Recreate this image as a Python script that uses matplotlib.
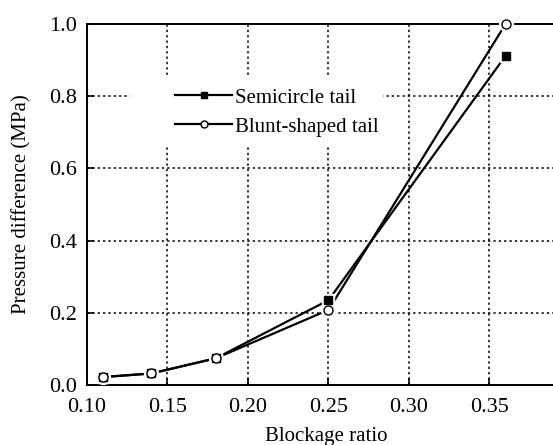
import numpy as np
from matplotlib import pyplot as plt
from matplotlib.patches import Rectangle

# Data
BLOCKAGE = [0.11, 0.14, 0.18, 0.25, 0.36]
SEMICIRCLE = [0.022, 0.032, 0.074, 0.235, 0.912]
BLUNT = [0.022, 0.032, 0.074, 0.208, 1.0]
LABELS = ['Semicircle tail', 'Blunt-shaped tail']

plt.rcParams['font.family'] = ['Liberation Serif', 'DejaVu Serif']


def main():
    fig = plt.figure(figsize=(5.53, 4.45), dpi=100)
    ax = fig.add_axes([87 / 553, 60 / 445, 1 - 87 / 553, 361 / 445])

    # lines first, then white halos so the lines stop short of the markers
    ax.plot(BLOCKAGE, SEMICIRCLE, color='k', lw=1.6, zorder=3)
    ax.plot(BLOCKAGE, BLUNT, color='k', lw=1.6, zorder=3)
    ax.plot(BLOCKAGE, SEMICIRCLE, ls='none', marker='s', ms=9, mfc='white', mec='white', zorder=4, clip_on=False)
    ax.plot(BLOCKAGE, BLUNT, ls='none', marker='o', ms=10, mfc='white', mec='white', zorder=4, clip_on=False)
    ax.plot(BLOCKAGE, SEMICIRCLE, ls='none', marker='s', ms=5.5, mfc='k', mec='k', zorder=5, clip_on=False)
    ax.plot(BLOCKAGE, BLUNT, ls='none', marker='o', ms=6.5, mfc='white', mec='k', mew=1.0, zorder=6, clip_on=False)

    # white box behind the legend that hides the grid
    ax.add_patch(Rectangle((0.092, 0.665), 0.543, 0.194, transform=ax.transAxes,
                           facecolor='white', edgecolor='none', zorder=1.5))

    # legend proxies
    h1, = ax.plot([], [], color='k', lw=1.6, marker='s', ms=5, mfc='k', mec='k')
    h2, = ax.plot([], [], color='k', lw=1.6, marker='o', ms=5, mfc='white', mec='k', mew=1.0)
    leg = ax.legend([h1, h2], LABELS, loc='center left', bbox_to_anchor=(0.189, 0.755),
                    fontsize=15, frameon=False, handlelength=2.75, handletextpad=0.15,
                    labelspacing=0.45, borderpad=0, borderaxespad=0)
    leg.set_zorder(2)

    ax.set_xlim(0.10, 0.10 + 466 / 1610)
    ax.set_ylim(0.0, 1.0)
    ax.set_xticks([0.10, 0.15, 0.20, 0.25, 0.30, 0.35])
    ax.set_yticks([0.0, 0.2, 0.4, 0.6, 0.8, 1.0])
    ax.set_xticklabels(['0.10', '0.15', '0.20', '0.25', '0.30', '0.35'])
    ax.set_yticklabels(['0.0', '0.2', '0.4', '0.6', '0.8', '1.0'])
    ax.tick_params(direction='in', length=5, width=1.2, labelsize=16)
    ax.tick_params(axis='y', pad=7)
    ax.tick_params(axis='x', pad=9)
    ax.grid(True, ls=(0, (1.5, 2)), color='k', lw=1.1)
    ax.set_axisbelow(True)

    ax.spines['right'].set_visible(False)
    for s in ['left', 'bottom', 'top']:
        ax.spines[s].set_linewidth(1.4)

    ax.set_xlabel('Blockage ratio', fontsize=15)
    ax.xaxis.set_label_coords(0.513, -0.115)
    ax.set_ylabel('Pressure difference (MPa)', fontsize=15)
    ax.yaxis.set_label_coords(-0.12, 0.5)

    fig.savefig('out.png', dpi=100)


if __name__ == '__main__':
    main()
